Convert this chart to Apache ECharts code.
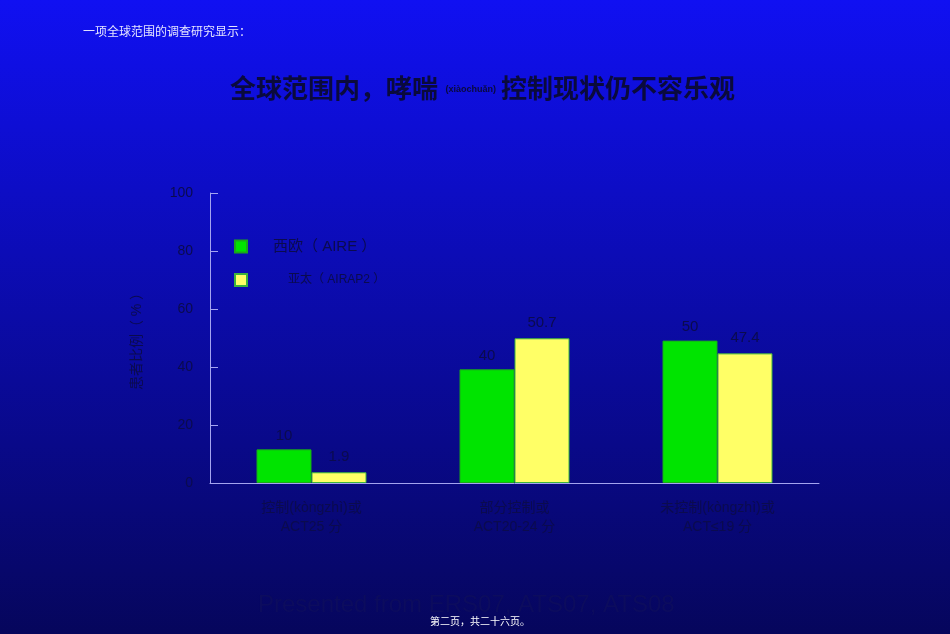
<!DOCTYPE html>
<html>
<head>
<meta charset="utf-8">
<script src="https://cdn.jsdelivr.net/npm/echarts@6/dist/echarts.min.js"></script>
<style>
  html, body { margin: 0; padding: 0; }
  #main { width: 950px; height: 634px; }
</style>
</head>
<body>
<div id="main"></div>
<script>
// 数据
var categories = ['控制(kòngzhì)或\nACT25 分', '部分控制或\nACT20-24 分', '未控制(kòngzhì)或\nACT≤19 分'];
var seriesNames = ['西欧（ AIRE ）', '亚太（ AIRAP2 ）'];
// 柱子高度
var europeValues = [11.6, 39.2, 49.1];
var asiaValues = [3.7, 49.9, 44.7];
// 柱顶标注的数字
var europeLabels = ['10', '40', '50'];
var asiaLabels = ['1.9', '50.7', '47.4'];
var yTicks = [0, 20, 40, 60, 80, 100];

var darkText = '#0b0b4e';
var fontCN = 'Liberation Sans, Noto Sans CJK SC, sans-serif';

var myChart = echarts.init(document.getElementById('main'));

var option = {
    animation: false,
    backgroundColor: {
        type: 'linear', x: 0, y: 0, x2: 0, y2: 1,
        colorStops: [
            { offset: 0, color: '#1010f2' },
            { offset: 1, color: '#06065c' }
        ]
    },
    textStyle: { fontFamily: fontCN },
    title: {
        left: 225,
        top: 70,
        text: '{a|全球范围内，哮喘}{b|   (xiàochuǎn)  }{a|控制现状仍不容乐观}',
        textStyle: {
            rich: {
                a: { fontSize: 26, fontWeight: 'bold', color: '#0a0a3c', fontFamily: 'Noto Sans CJK SC' },
                b: { fontSize: 9, color: '#0a0a3c', fontFamily: fontCN, padding: [4, 0, 0, 0] }
            }
        }
    },
    legend: [
        {
            left: 229, top: 234,
            orient: 'vertical',
            icon: 'rect',
            itemWidth: 12, itemHeight: 12,
            data: [seriesNames[0]],
            textStyle: { color: darkText, fontSize: 15, padding: [0, 0, 0, 21] }
        },
        {
            left: 229, top: 268,
            orient: 'vertical',
            icon: 'rect',
            itemWidth: 12, itemHeight: 12,
            data: [seriesNames[1]],
            textStyle: { color: darkText, fontSize: 12, padding: [0, 0, 0, 36] }
        }
    ],
    grid: { left: 210, right: 131, top: 193, bottom: 151 },
    xAxis: {
        type: 'category',
        data: categories,
        axisLine: { lineStyle: { color: '#a4a4f0', width: 1 } },
        axisTick: { inside: true, length: 7, lineStyle: { color: '#a4a4f0' } },
        axisLabel: { color: darkText, fontSize: 14, lineHeight: 19, margin: 16 }
    },
    yAxis: {
        type: 'value',
        min: yTicks[0],
        max: yTicks[yTicks.length - 1],
        interval: yTicks[1] - yTicks[0],
        name: '患者比例（ % ）',
        nameLocation: 'middle',
        nameRotate: 90,
        nameGap: 66,
        nameTextStyle: { color: darkText, fontSize: 14 },
        axisLine: { show: true, lineStyle: { color: '#a4a4f0', width: 1 } },
        axisTick: { show: true, inside: true, length: 8, lineStyle: { color: '#a4a4f0' } },
        splitLine: { show: false },
        axisLabel: { color: darkText, fontSize: 14, margin: 17 }
    },
    series: [
        {
            name: seriesNames[0],
            type: 'bar',
            data: europeValues,
            barWidth: 55,
            barGap: '0%',
            itemStyle: { color: '#00e400', borderColor: '#1aa81a', borderWidth: 1 },
            label: {
                show: true, position: 'top', distance: 6,
                color: darkText, fontSize: 15,
                formatter: function (p) { return europeLabels[p.dataIndex]; }
            }
        },
        {
            name: seriesNames[1],
            type: 'bar',
            data: asiaValues,
            barWidth: 55,
            itemStyle: { color: '#ffff66', borderColor: '#3cb43c', borderWidth: 1 },
            label: {
                show: true, position: 'top', distance: 8,
                color: darkText, fontSize: 15,
                formatter: function (p) { return asiaLabels[p.dataIndex]; }
            }
        }
    ],
    graphic: [
        {
            type: 'text', left: 83, top: 25,
            style: { text: '一项全球范围的调查研究显示：', fill: '#e6e6ff', fontSize: 12, fontFamily: 'Noto Sans CJK SC' }
        },
        {
            type: 'text', left: 258, top: 593,
            style: { text: 'Presented from ERS07, ATS07, ATS08', fill: '#0c0c5e', fontSize: 24, fontFamily: 'Liberation Sans' }
        },
        {
            type: 'text', left: 430, top: 616,
            style: { text: '第二页，共二十六页。', fill: '#ffffff', fontSize: 10, fontFamily: 'Noto Sans CJK SC' }
        }
    ]
};

myChart.setOption(option);
</script>
</body>
</html>
